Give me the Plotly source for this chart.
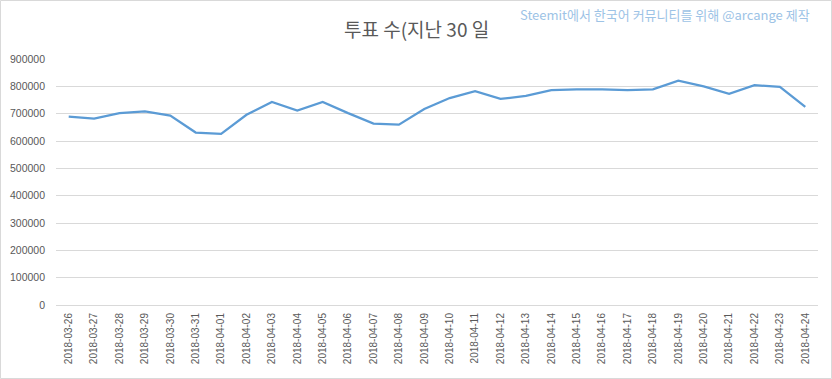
import plotly.graph_objects as go

dates = ["2018-03-26", "2018-03-27", "2018-03-28", "2018-03-29", "2018-03-30", "2018-03-31",
         "2018-04-01", "2018-04-02", "2018-04-03", "2018-04-04", "2018-04-05", "2018-04-06",
         "2018-04-07", "2018-04-08", "2018-04-09", "2018-04-10", "2018-04-11", "2018-04-12",
         "2018-04-13", "2018-04-14", "2018-04-15", "2018-04-16", "2018-04-17", "2018-04-18",
         "2018-04-19", "2018-04-20", "2018-04-21", "2018-04-22", "2018-04-23", "2018-04-24"]
votes = [689000, 682000, 702000, 708000, 693000, 631000,
         626000, 696000, 743000, 711000, 743000, 702000,
         664000, 660000, 717000, 757000, 782000, 754000,
         765000, 786000, 789000, 789000, 786000, 789000,
         821000, 800000, 773000, 804000, 798000, 725000]
y_ticks = [0, 100000, 200000, 300000, 400000, 500000, 600000, 700000, 800000, 900000]

W, H = 832, 379
ML, MR, MT, MB = 56, 14, 59, 74
PW, PH = W - ML - MR, H - MT - MB

fig = go.Figure()
fig.add_trace(go.Scatter(
    x=dates, y=votes, mode="lines",
    line=dict(color="#5b9bd5", width=2.25),
    hoverinfo="x+y",
))

fig.update_layout(
    width=W, height=H,
    margin=dict(l=ML, r=MR, t=MT, b=MB, pad=0, autoexpand=False),
    paper_bgcolor="white", plot_bgcolor="white",
    showlegend=False,
    font=dict(family="Liberation Sans, Arial, sans-serif", color="#595959"),
    xaxis=dict(
        type="category",
        range=[-0.5, len(dates) - 0.5],
        tickangle=-90,
        tickfont=dict(size=10, color="#595959"),
        showgrid=False,
        showline=False,
        zeroline=False,
        ticks="",
        ticklabelstandoff=5,
        automargin=False,
    ),
    yaxis=dict(
        range=[0, 900000],
        tickvals=y_ticks,
        tickformat="d",
        tickfont=dict(size=10.5, color="#595959"),
        showgrid=True, gridcolor="#d9d9d9", gridwidth=1,
        zeroline=True, zerolinecolor="#d9d9d9", zerolinewidth=1,
        showline=False,
        ticks="",
        ticklabelstandoff=10,
        automargin=False,
    ),
    annotations=[
        dict(text="투표 수(지난 30 일", xref="paper", yref="paper",
             x=(416 - ML) / PW, y=1 + (MT - 28) / PH, xanchor="center", yanchor="middle",
             showarrow=False,
             font=dict(family="Noto Sans CJK KR", size=19, color="#595959")),
        dict(text="Steemit에서 한국어 커뮤니티를 위해 @arcange 제작", xref="paper", yref="paper",
             x=(812 - ML) / PW, y=1 + (MT - 14) / PH, xanchor="right", yanchor="middle",
             showarrow=False,
             font=dict(family="Noto Sans CJK KR, Liberation Sans", size=13, color="#9dc3e6")),
    ],
    shapes=[
        dict(type="rect", xref="paper", yref="paper",
             x0=(0.5 - ML) / PW, x1=(W - 0.5 - ML) / PW,
             y0=-(MB - 0.5) / PH, y1=1 + (MT - 0.5) / PH,
             line=dict(color="#d9d9d9", width=1), fillcolor="rgba(0,0,0,0)", layer="below"),
    ],
)

fig.write_html("out.html", config={"displayModeBar": False},
               post_script="document.body.style.margin='0';document.body.style.overflow='hidden';")
